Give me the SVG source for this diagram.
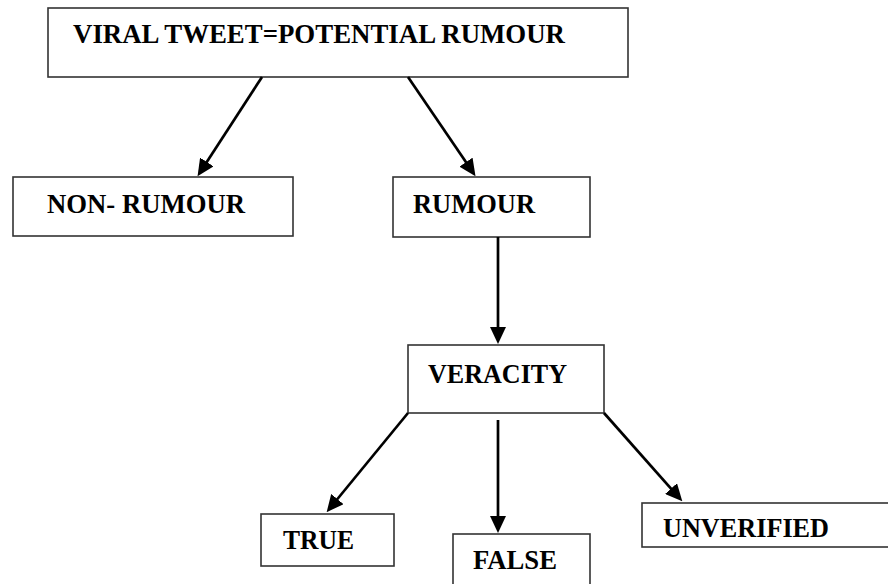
<svg xmlns="http://www.w3.org/2000/svg" width="888" height="584" viewBox="0 0 888 584">
<style>
.box{fill:#fff;stroke:#333;stroke-width:1.6}
.lbl{font-family:"Liberation Serif","Times New Roman",serif;font-weight:bold;font-size:27.5px;fill:#000}
.conn{stroke:#000;stroke-width:2.7;fill:none;marker-end:url(#ah)}
</style>
<defs>
<marker id="ah" viewBox="0 0 17 16" refX="9" refY="8" markerWidth="17" markerHeight="16" markerUnits="userSpaceOnUse" orient="auto">
<path d="M0,0 L17,8 L0,16 z" fill="#000"/>
</marker>
</defs>
<rect width="888" height="584" fill="#fff"/>
<g id="viral">
<rect class="box" x="48" y="8" width="580" height="69"/>
<text class="lbl" x="73" y="43" textLength="492" lengthAdjust="spacingAndGlyphs">VIRAL TWEET=POTENTIAL RUMOUR</text>
</g>
<g id="nonrumour">
<rect class="box" x="13" y="177" width="280" height="59"/>
<text class="lbl" x="47" y="213" textLength="198" lengthAdjust="spacingAndGlyphs">NON- RUMOUR</text>
</g>
<g id="rumour">
<rect class="box" x="393" y="177" width="197" height="60"/>
<text class="lbl" x="413" y="213" textLength="122" lengthAdjust="spacingAndGlyphs">RUMOUR</text>
</g>
<g id="veracity">
<rect class="box" x="408" y="345" width="196" height="68"/>
<text class="lbl" x="428" y="383" textLength="139" lengthAdjust="spacingAndGlyphs">VERACITY</text>
</g>
<g id="true">
<rect class="box" x="261" y="514" width="133" height="52"/>
<text class="lbl" x="283" y="549" textLength="71" lengthAdjust="spacingAndGlyphs">TRUE</text>
</g>
<g id="false">
<rect class="box" x="453" y="534" width="137" height="60"/>
<text class="lbl" x="473" y="569" textLength="84" lengthAdjust="spacingAndGlyphs">FALSE</text>
</g>
<g id="unverified">
<rect class="box" x="642" y="503" width="260" height="44"/>
<text class="lbl" x="663" y="537" textLength="166" lengthAdjust="spacingAndGlyphs">UNVERIFIED</text>
</g>
<g id="connectors">
<line class="conn" x1="262" y1="77" x2="201.9" y2="169.5"/>
<line class="conn" x1="408" y1="77" x2="471" y2="169.6"/>
<line class="conn" x1="498" y1="237" x2="498" y2="336"/>
<line class="conn" x1="408" y1="413" x2="331.7" y2="506"/>
<line class="conn" x1="498" y1="420" x2="498" y2="525"/>
<line class="conn" x1="604" y1="413" x2="677" y2="495.3"/>
</g>
</svg>
